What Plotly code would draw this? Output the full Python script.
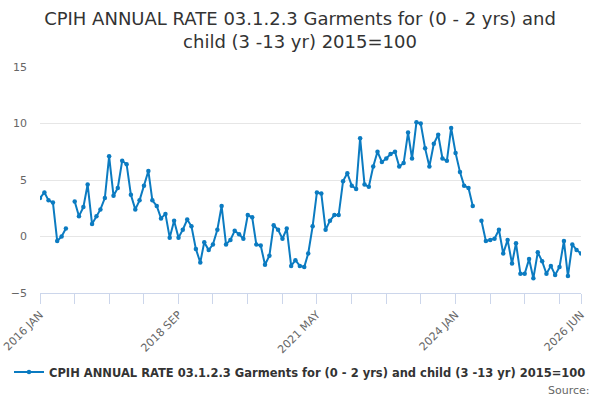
import pandas as pd
import plotly.graph_objects as go

# monthly series, 2016 JAN .. 2026 JUN (None = no figure published)
months = pd.date_range("2016-01-01", "2026-06-01", freq="MS")
rates = [
    3.4, 3.9, 3.2, 3.0, -0.4, 0.0, 0.7, None, 3.1, 1.8, 2.6, 4.6,
    1.1, 1.8, 2.4, 3.4, 7.1, 3.6, 4.3, 6.7, 6.4, 3.7, 2.4, 3.2,
    4.5, 5.8, 3.2, 2.7, 1.6, 2.0, -0.1, 1.4, -0.1, 0.6, 1.5, 0.9,
    -1.1, -2.3, -0.5, -1.2, -0.7, 0.6, 2.7, -0.7, -0.3, 0.5, 0.2, -0.2,
    1.9, 1.7, -0.7, -0.8, -2.5, -1.7, 1.0, 0.6, -0.2, 0.7, -2.6, -2.1,
    -2.6, -2.7, -1.5, 0.9, 3.9, 3.8, 0.6, 1.4, 1.9, 1.9, 4.9, 5.6,
    4.5, 4.2, 8.7, 4.6, 4.4, 6.2, 7.5, 6.6, 6.9, 7.3, 7.5, 6.2,
    6.5, 9.2, 6.9, 10.1, 10.0, 7.8, 6.2, 8.2, 9.0, 6.9, 6.7, 9.6,
    7.4, 5.7, 4.5, 4.3, 2.7, None, 1.4, -0.4, -0.3, -0.2, 0.6, -1.5,
    -0.3, -2.4, -0.6, -3.3, -3.3, -2.0, -3.7, -1.4, -2.2, -3.3, -2.6, -3.4,
    -2.7, -0.4, -3.5, -0.7, -1.2, -1.5,
]

series_name = "CPIH ANNUAL RATE 03.1.2.3 Garments for (0 - 2 yrs) and child (3 -13 yr) 2015=100"
title = "CPIH ANNUAL RATE 03.1.2.3 Garments for (0 - 2 yrs) and<br>child (3 -13 yr) 2015=100"

# ticks every 8 months plus the last month, labels on every fourth one
tick_idx = list(range(0, len(months), 8)) + [len(months) - 1]
tick_labels = {0: "2016 JAN", 32: "2018 SEP", 64: "2021 MAY", 96: "2024 JAN", 125: "2026 JUN"}

font = "DejaVu Sans"
blue = "#0b7bc1"

fig = go.Figure(go.Scatter(
    x=months, y=rates, name=series_name, mode="lines+markers",
    line=dict(color=blue, width=2), marker=dict(color=blue, size=4.5),
    connectgaps=False,
))

fig.update_layout(
    width=600, height=400,
    margin=dict(l=40, r=19, t=67, b=107, autoexpand=False),
    plot_bgcolor="white", paper_bgcolor="white",
    font=dict(family=font, color="#666666"),
    title=dict(text=title, x=0.5, xanchor="center", xref="container",
               y=0.9375, yref="container", yanchor="middle",
               font=dict(family=font, size=18, color="#333333")),
    showlegend=True,
    legend=dict(orientation="h", x=0.5, xanchor="center", xref="container",
                y=0.07, yref="container", yanchor="middle",
                font=dict(family=font, size=11.5, color="#333333", weight="bold")),
    annotations=[dict(text="Source:", xref="paper", yref="paper", x=1.02, y=-0.43,
                      xanchor="right", yanchor="middle", showarrow=False,
                      font=dict(family=font, size=11, color="#666666"))],
)

fig.update_xaxes(
    range=[months[0], months[-1]], automargin=False,
    tickvals=[months[i] for i in tick_idx],
    ticktext=[tick_labels.get(i, "") for i in tick_idx],
    tickangle=-45, ticks="outside", ticklen=10, tickcolor="#ccd6eb",
    showline=True, linecolor="#ccd6eb", showgrid=False, zeroline=False,
    tickfont=dict(size=11, color="#666666"),
)
fig.update_yaxes(
    range=[-5, 15], dtick=5, automargin=False, showgrid=True, gridcolor="#e6e6e6",
    zeroline=False, showline=False, tickfont=dict(size=11, color="#666666"),
    ticklabelstandoff=12,
)

# page has no body margin so the chart sits at the window corner
fig.write_html("out.html", config={"displayModeBar": False},
               post_script="document.body.style.margin = '0';")
